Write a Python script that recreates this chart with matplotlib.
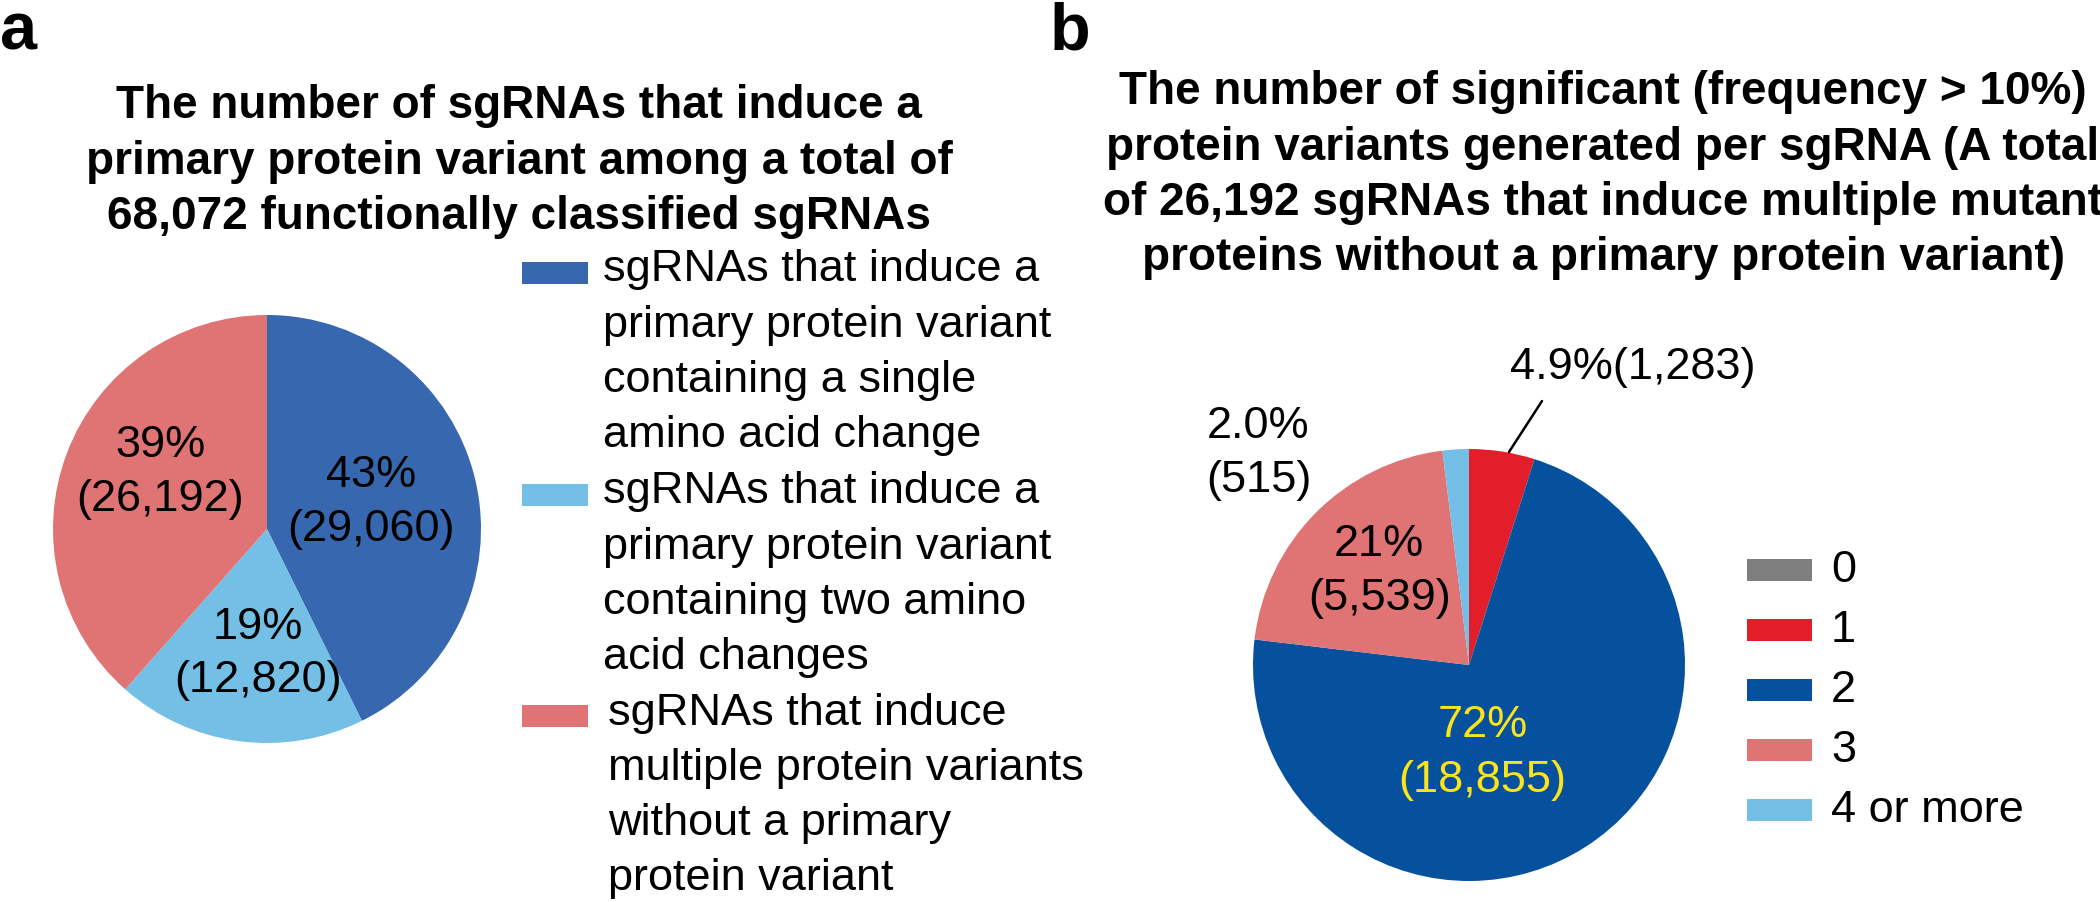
import matplotlib
matplotlib.use('Agg')
import matplotlib.pyplot as plt
from matplotlib.patches import Rectangle

plt.rcParams['font.family'] = ['Liberation Sans', 'DejaVu Sans']

W, H = 2100, 902

# ---- panel a data
title_a = ['The number of sgRNAs that induce a',
           'primary protein variant among a total of',
           '68,072 functionally classified sgRNAs']
counts_a = [29060, 12820, 26192]
pct_a = ['43%', '19%', '39%']
colors_a = ['#3767AF', '#74BFE6', '#E07373']
legend_a = [
    ['sgRNAs that induce a', 'primary protein variant', 'containing a single', 'amino acid change'],
    ['sgRNAs that induce a', 'primary protein variant', 'containing two amino', 'acid changes'],
    ['sgRNAs that induce', 'multiple protein variants', 'without a primary', 'protein variant'],
]

# ---- panel b data
title_b = ['The number of significant (frequency > 10%)',
           'protein variants generated per sgRNA (A total',
           'of 26,192 sgRNAs that induce multiple mutant',
           'proteins without a primary protein variant)']
classes_b = ['0', '1', '2', '3', '4 or more']
counts_b = [0, 1283, 18855, 5539, 515]
pct_b = ['0%', '4.9%', '72%', '21%', '2.0%']
colors_b = ['#7F7F7F', '#E31E2B', '#05519E', '#E07373', '#74BFE6']

FS = 32.5


def fx(x):
    return x / W


def fy(y):
    return 1 - y / H


fig = plt.figure(figsize=(21, 9.02), dpi=100)

# panel letters
fig.text(fx(0), fy(49), 'a', fontsize=48, fontweight='bold', va='baseline', ha='left')
fig.text(fx(1050), fy(49), 'b', fontsize=48, fontweight='bold', va='baseline', ha='left')

# titles
for i, line in enumerate(title_a):
    fig.text(fx(519), fy(106 + 55.5 * i), line, fontsize=FS + 0.5, fontweight='bold',
             ha='center', va='center')
for i, line in enumerate(title_b):
    fig.text(fx(1603), fy(92 + 55.5 * i), line, fontsize=FS + 0.5, fontweight='bold',
             ha='center', va='center')


def pie_axes(cx, cy, r):
    return fig.add_axes([fx(cx - r), fy(cy + r), 2 * r / W, 2 * r / H])


# ---- pie a
ax_a = pie_axes(267, 529, 214)
ax_a.pie(counts_a, colors=colors_a, startangle=90, counterclock=False,
         wedgeprops=dict(linewidth=0), shadow=dict(ox=-2.5, oy=-3))
ax_a.set_xlim(-1, 1)
ax_a.set_ylim(-1, 1)

# label spots (x, y of first line) in pie units
spots_a = [(0.486, 0.252), (-0.042, -0.458), (-0.50, 0.388)]
for (x, y), p, n in zip(spots_a, pct_a, counts_a):
    ax_a.text(x, y, p, fontsize=FS, ha='center', va='center')
    ax_a.text(x, y - 0.252, '({:,})'.format(n), fontsize=FS, ha='center', va='center')

# legend a
line_step = 55.3
first_line = [270, 492, 713]
text_x = [603, 603, 608]
for i, lines in enumerate(legend_a):
    yc = first_line[i] + 3
    fig.add_artist(Rectangle((fx(522), fy(yc + 11)), 66 / W, 22 / H,
                             facecolor=colors_a[i], linewidth=0,
                             transform=fig.transFigure))
    for j, line in enumerate(lines):
        fig.text(fx(text_x[i]), fy(first_line[i] + line_step * j), line,
                 fontsize=FS, ha='left', va='center')

# ---- pie b
ax_b = pie_axes(1469, 665, 216)
ax_b.pie(counts_b, colors=colors_b, startangle=90, counterclock=False,
         wedgeprops=dict(linewidth=0), shadow=dict(ox=-2.5, oy=-3))
ax_b.set_xlim(-1, 1)
ax_b.set_ylim(-1, 1)

# inside labels
ax_b.text(-0.416, 0.560, pct_b[3], fontsize=FS, ha='center', va='center')
ax_b.text(-0.416, 0.310, '({:,})'.format(counts_b[3]), fontsize=FS, ha='center', va='center')
ax_b.text(0.062, -0.282, pct_b[2], fontsize=FS, ha='center', va='center', color='#FCE31A')
ax_b.text(0.062, -0.537, '({:,})'.format(counts_b[2]), fontsize=FS, ha='center', va='center',
          color='#FCE31A')

# outside labels with leader lines
ax_b.text(0.19, 1.375, '{}({:,})'.format(pct_b[1], counts_b[1]), fontsize=FS, ha='left', va='center')
ax_b.annotate('', xy=(0.185, 0.986), xytext=(0.338, 1.222),
              arrowprops=dict(arrowstyle='-', color='black', lw=1.8, shrinkA=0, shrinkB=0))
ax_b.text(-1.215, 1.102, pct_b[4], fontsize=FS, ha='left', va='center')
ax_b.text(-1.215, 0.856, '({:,})'.format(counts_b[4]), fontsize=FS, ha='left', va='center')
ax_b.annotate('', xy=(-0.079, 1.009), xytext=(-0.676, 1.12),
              arrowprops=dict(arrowstyle='-', color='black', lw=1.8, shrinkA=0, shrinkB=0))

# legend b
for i, name in enumerate(classes_b):
    yc = 570 + 60 * i
    fig.add_artist(Rectangle((fx(1747), fy(yc + 11)), 65 / W, 22 / H,
                             facecolor=colors_b[i], linewidth=0,
                             transform=fig.transFigure))
    fig.text(fx(1831), fy(yc), name, fontsize=FS, ha='left', va='center')

fig.savefig('out.png', dpi=100)
